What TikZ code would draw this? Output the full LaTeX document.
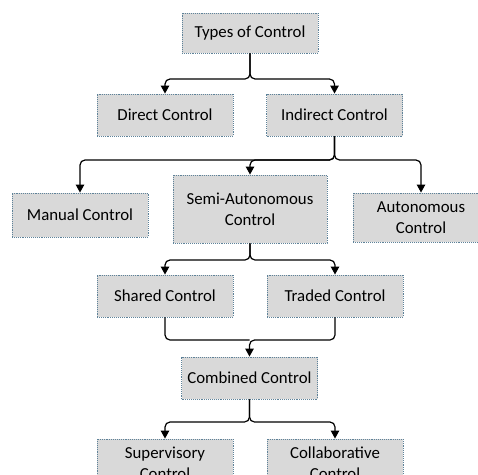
\documentclass[tikz,border=0pt]{standalone}
\usepackage{fontspec}
\setmainfont{Carlito}
\usetikzlibrary{arrows.meta}
\definecolor{boxfill}{HTML}{D9D9D9}
\definecolor{boxline}{HTML}{5E8299}
\begin{document}
\begin{tikzpicture}[x=1pt,y=-1pt,
  ctrl/.style={draw=boxline, densely dotted, line width=0.9pt, fill=boxfill,
    minimum width=136pt, minimum height=42pt, inner sep=0pt, align=center,
    font=\fontsize{16.8}{21}\selectfont},
  link/.style={draw=black, line width=1.2pt, rounded corners=5pt,
    -{Triangle[length=8pt,width=8.5pt]}},
  mergeline/.style={draw=black, line width=1.2pt, rounded corners=5pt}]
\useasboundingbox (0,0) rectangle (478,474);
\clip (0,0) rectangle (478,474);

\node[ctrl, minimum height=40pt] (types) at (250,33) {Types of Control};
\node[ctrl] (direct) at (165,115) {Direct Control};
\node[ctrl] (indirect) at (334.5,115) {Indirect Control};
\node[ctrl, minimum height=44pt] (manual) at (80,215) {Manual Control};
\node[ctrl, minimum width=154pt, minimum height=68pt] (semi) at (250,209) {Semi-Autonomous\\Control};
\node[ctrl, minimum height=49pt] (auto) at (421,217.5) {Autonomous\\Control};
\node[ctrl] (shared) at (165,296) {Shared Control};
\node[ctrl] (traded) at (335,296) {Traded Control};
\node[ctrl] (combined) at (249.5,378) {Combined Control};
\node[ctrl, minimum height=49pt] (super) at (165,463.5) {Supervisory\\Control};
\node[ctrl, minimum height=49pt] (collab) at (335,463.5) {Collaborative\\Control};

% first split
\draw[link] (types.south) |- (direct.north |- 0,79) -- (direct.north);
\draw[link] (types.south) |- (indirect.north |- 0,79) -- (indirect.north);

% indirect control branches
\draw[link] (indirect.south) |- (manual.north |- 0,160) -- (manual.north);
\draw[link] (indirect.south) |- (semi.north |- 0,160) -- (semi.north);
\draw[link] (indirect.south) |- (auto.north |- 0,160) -- (auto.north);

% semi-autonomous branches
\draw[link] (semi.south) |- (shared.north |- 0,260) -- (shared.north);
\draw[link] (semi.south) |- (traded.north |- 0,260) -- (traded.north);

% merge into combined control
\draw[mergeline] (shared.south) |- (combined.north |- 0,340);
\draw[link] (traded.south) |- (combined.north |- 0,340) -- (combined.north);

% combined control branches
\draw[link] (combined.south) |- (super.north |- 0,422) -- (super.north);
\draw[link] (combined.south) |- (collab.north |- 0,422) -- (collab.north);
\end{tikzpicture}
\end{document}
